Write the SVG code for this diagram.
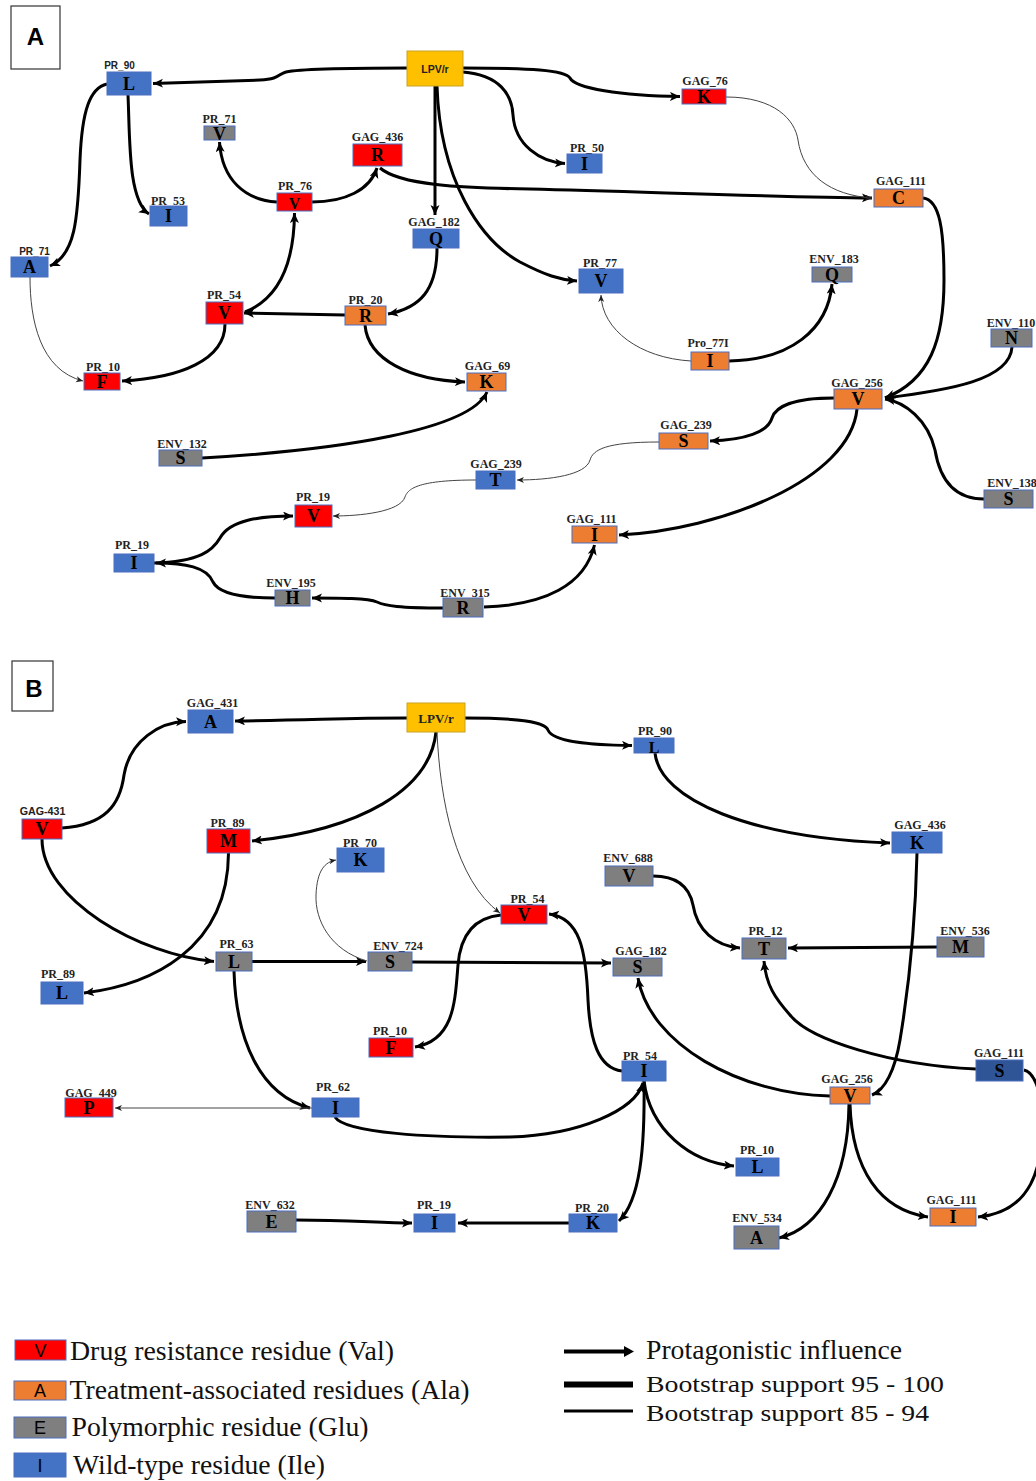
<svg xmlns="http://www.w3.org/2000/svg" width="1036" height="1481" viewBox="0 0 1036 1481">
<style>
.bg{fill:#fff}
.nr{fill:#FF0000;stroke:#4A6FBF;stroke-width:1}
.no{fill:#ED7D31;stroke:#4A6FBF;stroke-width:1}
.ng{fill:#7F7F7F;stroke:#4A6FBF;stroke-width:1}
.nb{fill:#4472C4;stroke:#4A6FBF;stroke-width:1}
.nd{fill:#2F5597;stroke:#4A6FBF;stroke-width:1}
.nl{fill:#FFC000;stroke:#C9A227;stroke-width:1}
.lbl{font-family:"Liberation Serif",serif;font-weight:bold;font-size:12px;fill:#222;text-anchor:middle}
.lbs{font-family:"Liberation Sans",sans-serif;font-weight:bold;font-size:10px;fill:#222;text-anchor:middle}
.res{font-family:"Liberation Serif",serif;font-weight:bold;font-size:18px;fill:#000;text-anchor:middle}
.ek{fill:none;stroke:#000;stroke-width:3;marker-end:url(#ah)}
.et{fill:none;stroke:#444;stroke-width:1;marker-end:url(#aht)}
.pan{fill:#fff;stroke:#333;stroke-width:1.2}
.pl{font-family:"Liberation Sans",sans-serif;font-weight:bold;font-size:24px;fill:#000;text-anchor:middle}
.lg{font-family:"Liberation Serif",serif;font-size:27px;fill:#111}
.lg2{font-family:"Liberation Serif",serif;font-size:24px;fill:#111}
.lgl{font-family:"Liberation Sans",sans-serif;font-size:18px;fill:#000;text-anchor:middle}
</style>
<defs>
<marker id="ah" markerUnits="userSpaceOnUse" markerWidth="11" markerHeight="10" refX="10" refY="4.5" orient="auto" viewBox="0 0 11 10">
<path d="M0,0 L10,4.5 L0,9 L2.5,4.5 z" fill="#000"/>
</marker>
<marker id="aht" markerUnits="userSpaceOnUse" markerWidth="8" markerHeight="7" refX="7" refY="3" orient="auto" viewBox="0 0 8 7">
<path d="M0,0 L7,3 L0,6 L2,3 z" fill="#222"/>
</marker>
</defs>
<rect class="bg" x="0" y="0" width="1036" height="1481"/>

<!-- Panel labels -->
<g id="panelA"><rect class="pan" x="11" y="6" width="49" height="63"/><text class="pl" x="35.5" y="45">A</text></g>
<g id="panelB"><rect class="pan" x="12" y="661" width="41" height="50"/><text class="pl" x="34" y="697">B</text></g>

<!-- Connectors -->
<g id="connectors">
<!-- Panel A -->
<path class="ek" d="M407,68 C350,68 300,69 286,72 C278,74 280,79 260,80 L153,83.5"/>
<path class="ek" d="M463,68 C530,68 565,70 570,78 C575,88 620,96 680,96.5"/>
<path class="ek" d="M463,72 C500,75 512,95 513,115 C515,145 540,162 565,163.5"/>
<path class="ek" d="M435,86 L435,215"/>
<path class="ek" d="M437,86 C440,180 480,240 520,262 C545,275 560,280 577,281"/>
<path class="ek" d="M107,84 C90,88 82,110 80,160 C78,220 75,255 50,266"/>
<path class="ek" d="M128,95 C130,140 128,200 149,214"/>
<path class="ek" d="M277,202 C245,200 222,180 219.5,142"/>
<path class="ek" d="M312,202 C345,202 370,190 377,168"/>
<path class="ek" d="M380,168 C400,185 460,188 530,189 C650,192 780,197 872,198"/>
<path class="et" d="M726,97 C775,97 795,120 798,140 C803,175 830,195 872,198"/>
<path class="ek" d="M245,312 C275,300 294,270 294.5,213"/>
<path class="ek" d="M345,315 L244,313"/>
<path class="ek" d="M437,248 C437,290 420,308 388,314"/>
<path class="ek" d="M225,324 C225,360 180,378 122,381"/>
<path class="et" d="M30,277 C30,320 40,370 83,381"/>
<path class="ek" d="M365,325 C368,360 410,380 465,382"/>
<path class="ek" d="M202,458 C340,450 470,430 487,392"/>
<path class="et" d="M691,361 C640,358 602,330 601,295"/>
<path class="ek" d="M729,361 C790,360 828,330 832,284"/>
<path class="ek" d="M923,198 C940,200 944,230 944,280 C944,340 930,380 885,398"/>
<path class="ek" d="M1012,347 C1010,380 950,390 885,398"/>
<path class="ek" d="M984,499 C955,499 940,480 935,450 C928,420 905,402 885,399"/>
<path class="ek" d="M834,398 C790,398 775,408 772,418 C768,432 745,440 710,441"/>
<path class="et" d="M659,442 C605,442 593,450 590,460 C586,475 550,480 517,480"/>
<path class="et" d="M476,480 C420,480 408,488 405,497 C400,512 360,516 333,516"/>
<path class="ek" d="M857,409 C850,480 720,530 619,535"/>
<path class="ek" d="M154,563 C200,562 213,550 220,538 C230,520 260,516 293,516"/>
<path class="ek" d="M275,598 C235,598 218,592 213,582 C207,567 185,563 156,563"/>
<path class="ek" d="M443,608 C400,608 385,606 377,602 C368,598 340,598 312,598"/>
<path class="ek" d="M484,607 C545,605 585,585 594.5,545"/>
<!-- Panel B -->
<path class="ek" d="M407,718 C340,718 320,720 235,721"/>
<path class="ek" d="M465,718 C520,718 545,722 548,730 C553,742 590,745 632,745.5"/>
<path class="ek" d="M436,732 C430,790 360,830 252,841"/>
<path class="et" d="M437,732 C440,800 455,880 500,913"/>
<path class="ek" d="M62,828 C105,825 120,805 124,775 C130,740 160,722 186,721.5"/>
<path class="ek" d="M42,839 C42,900 140,955 214,961.5"/>
<path class="ek" d="M228.5,853 C228,950 150,985 84,993"/>
<path class="ek" d="M252,961.5 L366,961.5"/>
<path class="et" d="M367,961 C330,950 315,920 316,895 C317,870 325,862 336,860"/>
<path class="ek" d="M412,962 L611,963"/>
<path class="ek" d="M655,753 C660,800 750,838 890,843"/>
<path class="ek" d="M917,853 C915,940 905,1010 900,1040 C895,1070 885,1090 872,1095"/>
<path class="ek" d="M653,876 C680,876 690,890 693,905 C697,930 715,946 740,948"/>
<path class="ek" d="M937,947 L788,948"/>
<path class="ek" d="M976,1069 C890,1065 810,1040 790,1015 C775,998 766,985 764,961"/>
<path class="ek" d="M1024,1070 C1034,1072 1040,1090 1042,1110 C1045,1170 1030,1212 978,1217"/>
<path class="ek" d="M501,915 C470,918 460,940 458,965 C455,1000 455,1040 415,1047"/>
<path class="ek" d="M622,1071 C598,1068 590,1040 588,1000 C586,950 580,918 549,914"/>
<path class="ek" d="M830,1096 C740,1094 650,1045 638,978"/>
<path class="ek" d="M234,971 C236,1040 260,1095 310,1108"/>
<path class="et" d="M312,1108 L115,1108"/>
<path class="ek" d="M335,1117 C345,1133 430,1138 510,1137 C580,1135 635,1110 643,1083"/>
<path class="ek" d="M644,1081 C650,1130 690,1162 734,1166"/>
<path class="ek" d="M644,1081 C645,1150 640,1200 619,1221"/>
<path class="ek" d="M569,1223 L458,1223"/>
<path class="ek" d="M296,1220 C350,1220 380,1223 412,1223"/>
<path class="ek" d="M849,1104 C848,1180 820,1228 779,1238"/>
<path class="ek" d="M850,1104 C852,1170 880,1210 928,1217"/>
</g>

<!-- Panel A nodes -->
<g id="A_LPVr"><rect class="nl" x="407" y="51" width="56" height="35"/><text class="lbs" x="435" y="72.5" style="font-size:10.5px">LPV/r</text></g>
<g id="A_PR_90"><text class="lbs" x="119.5" y="69">PR_90</text><rect class="nb" x="107" y="72" width="44" height="23"/><text class="res" x="129" y="90">L</text></g>
<g id="A_PR_71V"><text class="lbl" x="219.5" y="123">PR_71</text><rect class="ng" x="204" y="126" width="31" height="14"/><text class="res" x="219.5" y="140">V</text></g>
<g id="A_GAG_436"><text class="lbl" x="377.5" y="141">GAG_436</text><rect class="nr" x="353" y="144" width="49" height="22"/><text class="res" x="377.5" y="161">R</text></g>
<g id="A_PR_53"><text class="lbl" x="168" y="205">PR_53</text><rect class="nb" x="150" y="206" width="37" height="20"/><text class="res" x="168.5" y="222">I</text></g>
<g id="A_PR_76"><text class="lbl" x="295" y="190">PR_76</text><rect class="nr" x="277" y="193" width="35" height="18"/><text class="res" x="294.5" y="208.5" style="font-size:16px">V</text></g>
<g id="A_GAG_182"><text class="lbl" x="434" y="226">GAG_182</text><rect class="nb" x="413" y="229" width="46" height="19"/><text class="res" x="436" y="245">Q</text></g>
<g id="A_PR_71A"><text class="lbs" x="34.5" y="255">PR_71</text><rect class="nb" x="11" y="257" width="37" height="20"/><text class="res" x="29.5" y="273">A</text></g>
<g id="A_PR_54"><text class="lbl" x="224" y="299">PR_54</text><rect class="nr" x="206" y="302" width="37" height="22"/><text class="res" x="224.5" y="319">V</text></g>
<g id="A_PR_20"><text class="lbl" x="365.5" y="304">PR_20</text><rect class="no" x="345" y="306" width="41" height="19"/><text class="res" x="365.5" y="322">R</text></g>
<g id="A_PR_10"><text class="lbl" x="103" y="371">PR_10</text><rect class="nr" x="84" y="373" width="36" height="17"/><text class="res" x="102" y="388">F</text></g>
<g id="A_GAG_69"><text class="lbl" x="487.5" y="370">GAG_69</text><rect class="no" x="467" y="373" width="39" height="18"/><text class="res" x="486.5" y="388">K</text></g>
<g id="A_ENV_132"><text class="lbl" x="182" y="447.5">ENV_132</text><rect class="ng" x="159" y="450" width="43" height="16"/><text class="res" x="180.5" y="464">S</text></g>
<g id="A_GAG_76"><text class="lbl" x="705" y="85">GAG_76</text><rect class="nr" x="682" y="89" width="44" height="15"/><text class="res" x="704" y="103">K</text></g>
<g id="A_PR_50"><text class="lbl" x="587" y="152">PR_50</text><rect class="nb" x="567" y="154" width="35" height="19"/><text class="res" x="584.5" y="170">I</text></g>
<g id="A_GAG_111C"><text class="lbl" x="901" y="185">GAG_111</text><rect class="no" x="874" y="189" width="49" height="18"/><text class="res" x="898.5" y="204">C</text></g>
<g id="A_PR_77"><text class="lbl" x="600" y="266.5">PR_77</text><rect class="nb" x="579" y="269" width="44" height="24"/><text class="res" x="601" y="287">V</text></g>
<g id="A_ENV_183"><text class="lbl" x="834" y="263">ENV_183</text><rect class="ng" x="812" y="267" width="40" height="15"/><text class="res" x="832" y="281">Q</text></g>
<g id="A_Pro_77I"><text class="lbl" x="708" y="347">Pro_77I</text><rect class="no" x="691" y="352" width="38" height="18"/><text class="res" x="710" y="367">I</text></g>
<g id="A_ENV_110"><text class="lbl" x="1011" y="327">ENV_110</text><rect class="ng" x="991" y="329" width="41" height="18"/><text class="res" x="1011.5" y="344">N</text></g>
<g id="A_GAG_256"><text class="lbl" x="857" y="387">GAG_256</text><rect class="no" x="834" y="389" width="48" height="20"/><text class="res" x="858" y="405">V</text></g>
<g id="A_ENV_138"><text class="lbl" x="1012" y="486.5">ENV_138</text><rect class="ng" x="984" y="490" width="49" height="18"/><text class="res" x="1008.5" y="505">S</text></g>
<g id="A_GAG_239S"><text class="lbl" x="686" y="429">GAG_239</text><rect class="no" x="659" y="433" width="49" height="16"/><text class="res" x="683.5" y="447">S</text></g>
<g id="A_GAG_239T"><text class="lbl" x="496" y="468">GAG_239</text><rect class="nb" x="476" y="471" width="39" height="18"/><text class="res" x="495.5" y="486">T</text></g>
<g id="A_PR_19V"><text class="lbl" x="313" y="501">PR_19</text><rect class="nr" x="295" y="505" width="37" height="22"/><text class="res" x="313.5" y="522">V</text></g>
<g id="A_GAG_111I"><text class="lbl" x="591.5" y="523">GAG_111</text><rect class="no" x="572" y="526" width="45" height="17"/><text class="res" x="594.5" y="540.5">I</text></g>
<g id="A_PR_19I"><text class="lbl" x="132" y="549">PR_19</text><rect class="nb" x="114" y="554" width="40" height="18"/><text class="res" x="134" y="569">I</text></g>
<g id="A_ENV_195"><text class="lbl" x="291" y="587">ENV_195</text><rect class="ng" x="275" y="590" width="35" height="16"/><text class="res" x="292.5" y="604">H</text></g>
<g id="A_ENV_315"><text class="lbl" x="465" y="597">ENV_315</text><rect class="ng" x="443" y="598" width="40" height="19"/><text class="res" x="463" y="614">R</text></g>

<!-- Panel B nodes -->
<g id="B_LPVr"><rect class="nl" x="407" y="703" width="58" height="29"/><text class="lbl" x="436" y="722.5" style="font-size:13px">LPV/r</text></g>
<g id="B_GAG_431A"><text class="lbl" x="212.5" y="707">GAG_431</text><rect class="nb" x="188" y="710" width="45" height="23"/><text class="res" x="210.5" y="728">A</text></g>
<g id="B_PR_90"><text class="lbl" x="655" y="735">PR_90</text><rect class="nb" x="634" y="738" width="40" height="15"/><text class="res" x="654" y="753" style="font-size:16px">L</text></g>
<g id="B_GAG-431V"><text class="lbs" x="42.5" y="815" style="font-size:10.7px">GAG-431</text><rect class="nr" x="22" y="819" width="40" height="20"/><text class="res" x="42" y="835">V</text></g>
<g id="B_PR_89M"><text class="lbl" x="227.5" y="826.5">PR_89</text><rect class="nr" x="207" y="829" width="43" height="24"/><text class="res" x="228.5" y="847">M</text></g>
<g id="B_PR_70"><text class="lbl" x="360" y="846.5">PR_70</text><rect class="nb" x="337" y="848" width="47" height="24"/><text class="res" x="360.5" y="866">K</text></g>
<g id="B_GAG_436"><text class="lbl" x="920" y="829">GAG_436</text><rect class="nb" x="892" y="832" width="50" height="21"/><text class="res" x="917" y="848.5">K</text></g>
<g id="B_ENV_688"><text class="lbl" x="628" y="862">ENV_688</text><rect class="ng" x="605" y="866" width="48" height="20"/><text class="res" x="629" y="882">V</text></g>
<g id="B_PR_54V"><text class="lbl" x="527.5" y="903">PR_54</text><rect class="nr" x="501" y="905" width="46" height="19"/><text class="res" x="524" y="920.5">V</text></g>
<g id="B_PR_63"><text class="lbl" x="236.5" y="948">PR_63</text><rect class="ng" x="216" y="952" width="36" height="19"/><text class="res" x="234" y="967.5">L</text></g>
<g id="B_ENV_724"><text class="lbl" x="398" y="950">ENV_724</text><rect class="ng" x="368" y="952" width="44" height="19"/><text class="res" x="390" y="967.5">S</text></g>
<g id="B_GAG_182"><text class="lbl" x="641" y="955">GAG_182</text><rect class="ng" x="613" y="958" width="49" height="18"/><text class="res" x="637.5" y="973">S</text></g>
<g id="B_PR_12"><text class="lbl" x="765.5" y="935">PR_12</text><rect class="ng" x="742" y="938" width="44" height="21"/><text class="res" x="764" y="954.5">T</text></g>
<g id="B_ENV_536"><text class="lbl" x="965" y="935">ENV_536</text><rect class="ng" x="937" y="937" width="47" height="20"/><text class="res" x="960.5" y="953">M</text></g>
<g id="B_PR_89L"><text class="lbl" x="58" y="978">PR_89</text><rect class="nb" x="41" y="982" width="42" height="22"/><text class="res" x="62" y="999">L</text></g>
<g id="B_PR_10F"><text class="lbl" x="390" y="1035">PR_10</text><rect class="nr" x="369" y="1038" width="44" height="19"/><text class="res" x="391" y="1053.5">F</text></g>
<g id="B_GAG_111S"><text class="lbl" x="999" y="1057">GAG_111</text><rect class="nd" x="976" y="1060" width="47" height="21"/><text class="res" x="999.5" y="1076.5">S</text></g>
<g id="B_PR_54I"><text class="lbl" x="640" y="1060">PR_54</text><rect class="nb" x="622" y="1061" width="44" height="20"/><text class="res" x="644" y="1077">I</text></g>
<g id="B_GAG_256"><text class="lbl" x="847" y="1083">GAG_256</text><rect class="no" x="830" y="1087" width="40" height="17"/><text class="res" x="850" y="1101.5">V</text></g>
<g id="B_GAG_449"><text class="lbl" x="91" y="1096.5">GAG_449</text><rect class="nr" x="65" y="1098" width="48" height="19"/><text class="res" x="89" y="1113.5">P</text></g>
<g id="B_PR_62"><text class="lbl" x="333" y="1091">PR_62</text><rect class="nb" x="312" y="1098" width="47" height="19"/><text class="res" x="335.5" y="1113.5">I</text></g>
<g id="B_PR_10L"><text class="lbl" x="757" y="1154">PR_10</text><rect class="nb" x="736" y="1158" width="43" height="18"/><text class="res" x="757.5" y="1173">L</text></g>
<g id="B_GAG_111I"><text class="lbl" x="951.5" y="1203.5">GAG_111</text><rect class="no" x="930" y="1208" width="46" height="18"/><text class="res" x="953" y="1223">I</text></g>
<g id="B_ENV_632"><text class="lbl" x="270" y="1209">ENV_632</text><rect class="ng" x="247" y="1211" width="49" height="21"/><text class="res" x="271.5" y="1227.5">E</text></g>
<g id="B_PR_19"><text class="lbl" x="434" y="1209">PR_19</text><rect class="nb" x="414" y="1214" width="41" height="18"/><text class="res" x="434.5" y="1229">I</text></g>
<g id="B_PR_20"><text class="lbl" x="592" y="1212">PR_20</text><rect class="nb" x="569" y="1214" width="48" height="18"/><text class="res" x="593" y="1229">K</text></g>
<g id="B_ENV_534"><text class="lbl" x="757" y="1222">ENV_534</text><rect class="ng" x="734" y="1226" width="45" height="23"/><text class="res" x="756.5" y="1244">A</text></g>

<!-- Legend -->
<g id="legend">
<rect class="nr" x="15" y="1340" width="51" height="20"/><text class="lgl" x="40.5" y="1357">V</text>
<text class="lg" x="70" y="1360" textLength="324" lengthAdjust="spacingAndGlyphs">Drug resistance residue (Val)</text>
<rect class="no" x="14" y="1381" width="52" height="19"/><text class="lgl" x="40" y="1397">A</text>
<text class="lg" x="69.5" y="1399" textLength="400" lengthAdjust="spacingAndGlyphs">Treatment-associated residues (Ala)</text>
<rect class="ng" x="14" y="1417" width="52" height="21"/><text class="lgl" x="40" y="1434">E</text>
<text class="lg" x="71.5" y="1436" textLength="297" lengthAdjust="spacingAndGlyphs">Polymorphic residue (Glu)</text>
<rect class="nb" x="14" y="1453" width="52" height="24"/><text class="lgl" x="40" y="1472">I</text>
<text class="lg" x="73" y="1474" textLength="252" lengthAdjust="spacingAndGlyphs">Wild-type residue (Ile)</text>
<line x1="564" y1="1351.5" x2="626" y2="1351.5" stroke="#000" stroke-width="4"/>
<path d="M624,1346 L634,1351.5 L624,1357 z" fill="#000"/>
<text class="lg" x="646" y="1359" textLength="256" lengthAdjust="spacingAndGlyphs">Protagonistic influence</text>
<line x1="564" y1="1384.5" x2="633" y2="1384.5" stroke="#000" stroke-width="6"/>
<text class="lg2" x="646" y="1392" textLength="298" lengthAdjust="spacingAndGlyphs">Bootstrap support 95 - 100</text>
<line x1="564" y1="1411" x2="633" y2="1411" stroke="#000" stroke-width="3"/>
<text class="lg2" x="646" y="1421" textLength="283" lengthAdjust="spacingAndGlyphs">Bootstrap support 85 - 94</text>
</g>
</svg>
